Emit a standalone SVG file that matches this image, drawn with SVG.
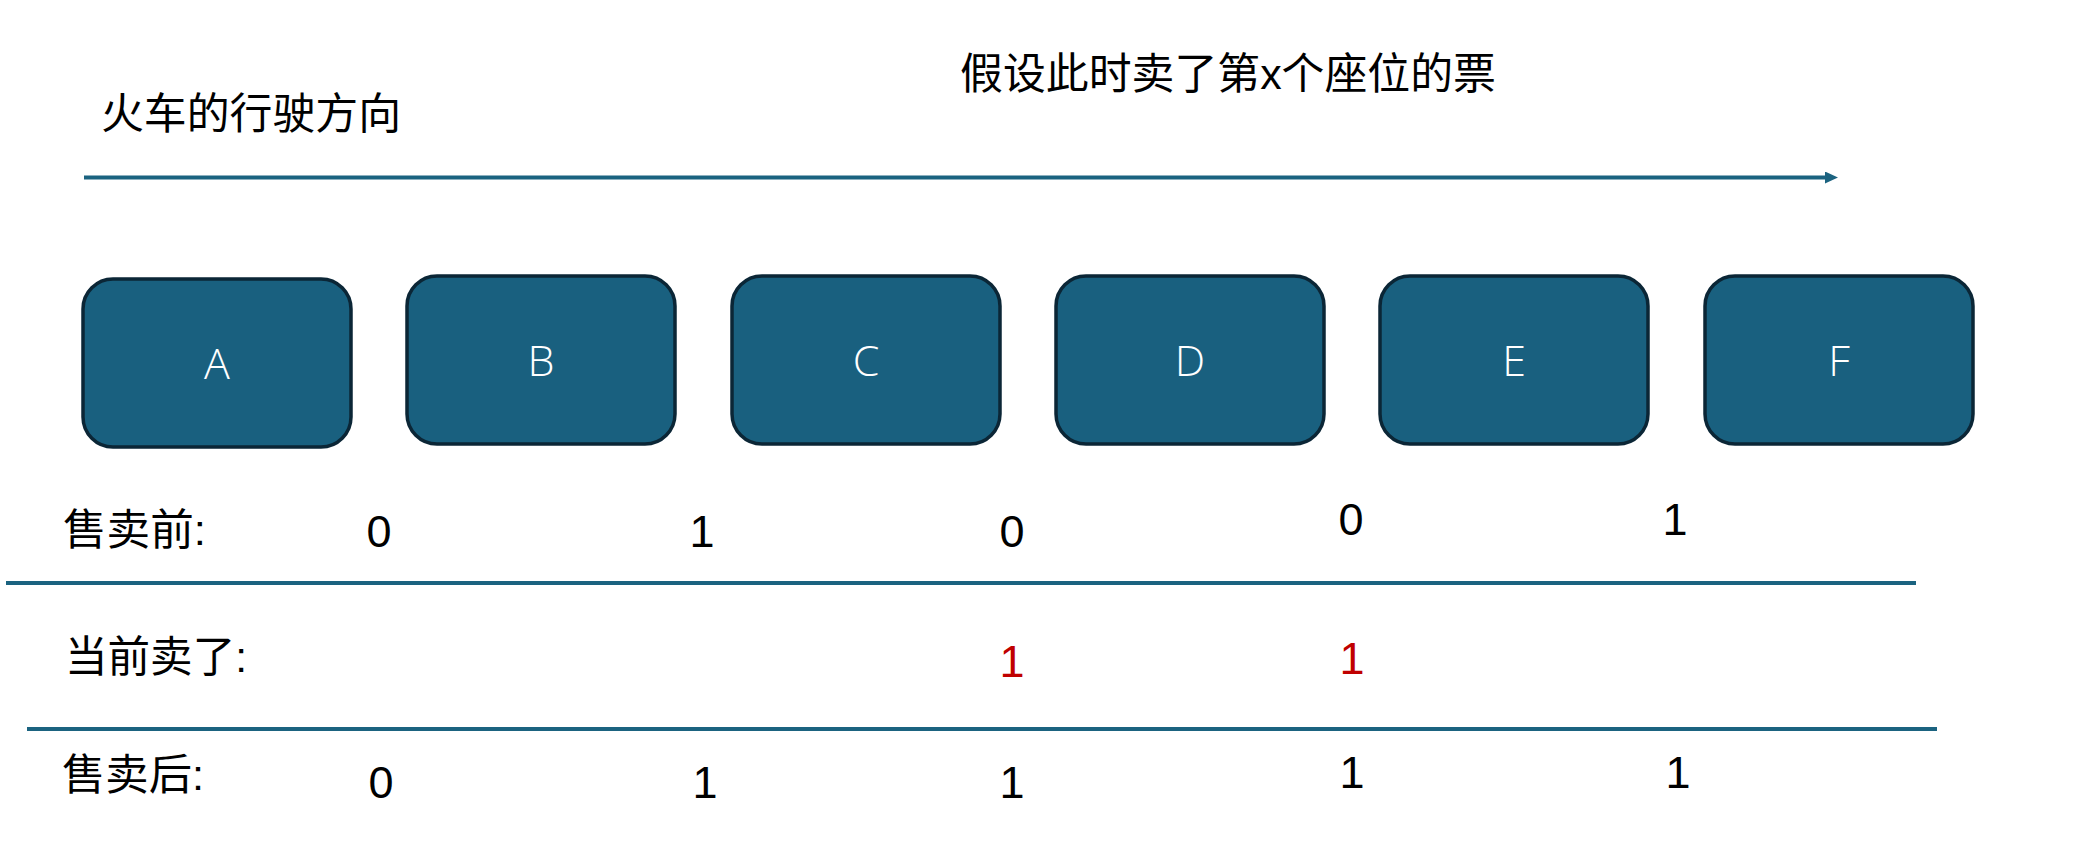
<svg xmlns="http://www.w3.org/2000/svg" width="2088" height="844" viewBox="0 0 2088 844">
<defs>
<style>
.bg{fill:#ffffff}
.cjk{font-family:"Liberation Sans","Noto Sans CJK SC",sans-serif;font-size:43px;fill:#000000}
.num{font-family:"Liberation Sans","Noto Sans CJK SC",sans-serif;font-size:45px;fill:#000000;text-anchor:middle}
.red{fill:#C00000}
.box rect{fill:#19607F;stroke:#0B2636;stroke-width:3.5}
.box text{font-family:"Open Sans","Liberation Sans",sans-serif;font-weight:300;font-size:43px;fill:#ffffff;text-anchor:middle}
.rule{stroke:#1B6380;stroke-width:4;fill:none}
</style>
<marker id="arrow" markerWidth="14" markerHeight="12" refX="0" refY="6" orient="auto" markerUnits="userSpaceOnUse">
<path d="M0,0 L13,6 L0,12 Z" fill="#1B6380"/>
</marker>
</defs>
<rect class="bg" x="0" y="0" width="2088" height="844"/>

<g id="titles">
<text class="cjk" x="101" y="129" textLength="300" lengthAdjust="spacingAndGlyphs">火车的行驶方向</text>
<text class="cjk" x="960" y="89" textLength="536" lengthAdjust="spacingAndGlyphs">假设此时卖了第x个座位的票</text>
</g>

<g id="connectors">
<line class="rule" x1="84" y1="177.5" x2="1825" y2="177.5" marker-end="url(#arrow)"/>
<line class="rule" x1="6" y1="583" x2="1916" y2="583"/>
<line class="rule" x1="27" y1="729" x2="1937" y2="729"/>
</g>

<g id="node-A" class="box"><rect x="83" y="279" width="268" height="168" rx="30"/><text x="217" y="379">A</text></g>
<g id="node-B" class="box"><rect x="407" y="276" width="268" height="168" rx="30"/><text x="541" y="376">B</text></g>
<g id="node-C" class="box"><rect x="732" y="276" width="268" height="168" rx="30"/><text x="866" y="376">C</text></g>
<g id="node-D" class="box"><rect x="1056" y="276" width="268" height="168" rx="30"/><text x="1190" y="376">D</text></g>
<g id="node-E" class="box"><rect x="1380" y="276" width="268" height="168" rx="30"/><text x="1514" y="376">E</text></g>
<g id="node-F" class="box"><rect x="1705" y="276" width="268" height="168" rx="30"/><text x="1839" y="376">F</text></g>

<g id="row-before">
<text class="cjk" x="63" y="545" textLength="143" lengthAdjust="spacingAndGlyphs">售卖前:</text>
<text class="num" x="379" y="547">0</text>
<text class="num" x="702" y="547">1</text>
<text class="num" x="1012" y="547">0</text>
<text class="num" x="1351" y="535">0</text>
<text class="num" x="1675" y="535">1</text>
</g>

<g id="row-sold">
<text class="cjk" x="65" y="672" textLength="182" lengthAdjust="spacingAndGlyphs">当前卖了:</text>
<text class="num red" x="1012" y="677">1</text>
<text class="num red" x="1352" y="674">1</text>
</g>

<g id="row-after">
<text class="cjk" x="62" y="790" textLength="142" lengthAdjust="spacingAndGlyphs">售卖后:</text>
<text class="num" x="381" y="798">0</text>
<text class="num" x="705" y="798">1</text>
<text class="num" x="1012" y="798">1</text>
<text class="num" x="1352" y="788">1</text>
<text class="num" x="1678" y="788">1</text>
</g>
</svg>
